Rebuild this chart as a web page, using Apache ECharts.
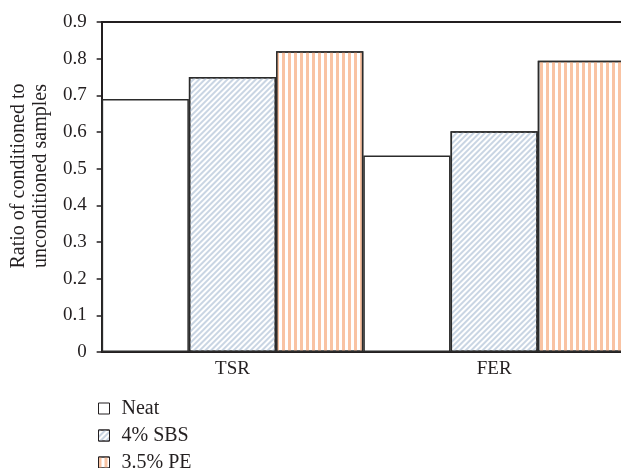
<!DOCTYPE html>
<html>
<head>
<meta charset="utf-8">
<script src="https://cdn.jsdelivr.net/npm/echarts@6/dist/echarts.min.js"></script>
<style>html,body{margin:0;padding:0;background:#fff;overflow:hidden;width:621px;height:468px;}#c{width:625px;height:490px;}</style>
</head>
<body>
<div id="c"></div>
<script>
const categories = ['TSR', 'FER'];
const seriesNames = ['Neat', '4% SBS', '3.5% PE'];
const neat = [0.69, 0.536];
const sbs = [0.75, 0.602];
const pe = [0.82, 0.794];
const yTicks = [0, 0.1, 0.2, 0.3, 0.4, 0.5, 0.6, 0.7, 0.8, 0.9];

const FONT = '"Liberation Serif", "DejaVu Serif", serif';
const border = {borderColor: '#2b2b2b', borderWidth: 1.5};
const chart = echarts.init(document.getElementById('c'), null, {renderer: 'canvas'});
chart.setOption({
  animation: false,
  backgroundColor: '#fff',
  grid: {left: 97, top: 22, bottom: 138, right: 0, containLabel: false},
  legend: {
    orient: 'vertical', left: 98, top: 398, padding: 0,
    icon: 'rect',
    itemWidth: 11, itemHeight: 11, itemGap: 6,
    itemStyle: {borderWidth: 1, borderColor: '#231f20'},
    textStyle: {fontFamily: FONT, fontSize: 20, color: '#231f20', padding: [0, 0, 0, 7], lineHeight: 21},
    data: seriesNames
  },
  xAxis: [{
    type: 'category', data: categories,
    axisLine: {lineStyle: {color: '#231f20', width: 2}},
    axisTick: {show: false},
    axisLabel: {fontFamily: FONT, fontSize: 19, color: '#231f20', margin: 8}
  }, {
    type: 'category', data: categories, position: 'top',
    axisLine: {show: true, onZero: false, lineStyle: {color: '#231f20', width: 2}},
    axisTick: {show: false}, axisLabel: {show: false}
  }],
  yAxis: {
    type: 'value', min: 0, max: 0.9, interval: 0.1,
    name: 'Ratio of conditioned to\nunconditioned samples',
    nameLocation: 'middle', nameGap: 49, nameRotate: 90,
    nameTextStyle: {fontFamily: FONT, fontSize: 20, color: '#231f20', lineHeight: 22, padding: [0, 0, 0, 22]},
    axisLine: {show: true, lineStyle: {color: '#231f20', width: 2}},
    axisTick: {show: true, length: 5, lineStyle: {color: '#231f20', width: 1.5}},
    axisLabel: {fontFamily: FONT, fontSize: 19, color: '#231f20', margin: 15,
      formatter: v => { const t = yTicks.find(x => Math.abs(x - v) < 1e-6); return t === 0 ? '0' : String(t); }},
    splitLine: {show: false}
  },
  series: [{
    name: seriesNames[0], type: 'bar', data: neat, barGap: '0%', barCategoryGap: '0%',
    itemStyle: Object.assign({color: '#ffffff'}, border)
  }, {
    name: seriesNames[1], type: 'bar', data: sbs, barGap: '0%', barCategoryGap: '0%',
    itemStyle: Object.assign({color: '#ffffff',
      decal: {symbol: 'rect', symbolSize: 1, color: '#c9d5e3', dashArrayX: [1, 0], dashArrayY: [1.2, 1.6], rotation: -Math.PI / 4}}, border)
  }, {
    name: seriesNames[2], type: 'bar', data: pe, barGap: '0%', barCategoryGap: '0%',
    itemStyle: Object.assign({color: '#ffffff',
      decal: {symbol: 'rect', symbolSize: 1, color: '#f9c3a3', dashArrayX: [3, 3], dashArrayY: [1, 0], rotation: 0}}, border)
  }]
});
</script>
</body>
</html>
